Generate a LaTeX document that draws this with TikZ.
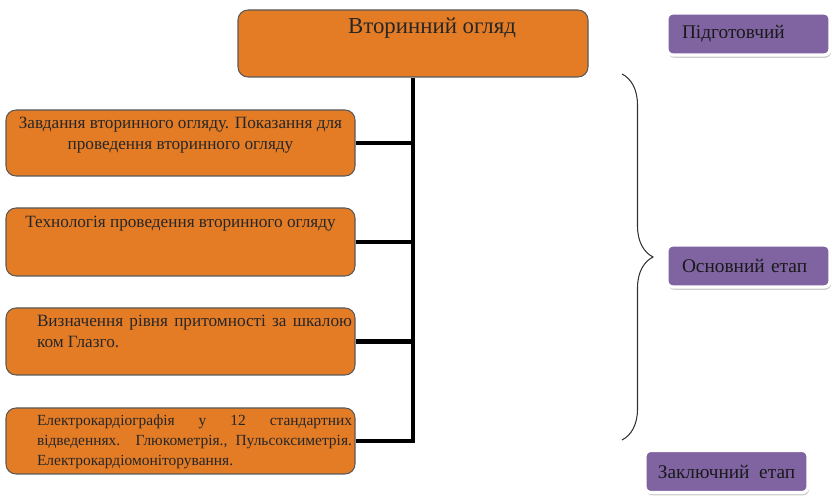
\documentclass[tikz,border=0pt]{standalone}
\usepackage{fontspec}
\setmainfont{Liberation Serif}
\usetikzlibrary{positioning,decorations.pathreplacing,shadows}
\definecolor{stageorange}{RGB}{228,124,38}
\definecolor{stagepurple}{RGB}{128,100,162}

\begin{document}
\begin{tikzpicture}[line width=0.6pt,
  topic/.style={draw=black!65,fill=stageorange,rounded corners=0.2cm,inner sep=0pt},
  boxtext/.style={inner sep=0pt,text=black!85,font=\fontsize{9.8}{12}\selectfont},
  phase/.style={draw=white,line width=1.8pt,fill=stagepurple,rounded corners=0.12cm,
    drop shadow={shadow xshift=0.6pt,shadow yshift=-1.6pt,fill=black!40},
    minimum width=3.26cm,minimum height=0.84cm,inner ysep=0pt,
    text=black!90,font=\fontsize{11}{13}\selectfont},
  trunk/.style={line width=2.3pt}]
\useasboundingbox (0,0) rectangle (16.68,9.96);
% ---------- main topic ----------
\node[topic,minimum width=7cm,minimum height=1.34cm] (tit) at (8.26,9.09) {};
\node[boxtext,font=\fontsize{13}{15}\selectfont,below=0.16cm of tit.north,xshift=0.38cm] (titt) {Вторинний огляд};
% ---------- sub topics ----------
\node[topic,minimum width=6.98cm,minimum height=1.32cm] (zav) at (3.61,7.10) {};
\node[boxtext,align=center,below=0.15cm of zav.north] (zavt)
  {Завдання вторинного огляду. Показання для\\проведення вторинного огляду};
\node[topic,minimum width=6.98cm,minimum height=1.36cm] (tech) at (3.61,5.12) {};
\node[boxtext,below=0.17cm of tech.north] (techt) {Технологія проведення вторинного огляду};
\node[topic,minimum width=6.98cm,minimum height=1.34cm] (vis) at (3.61,3.13) {};
\node[boxtext,text width=6.3cm,align=justify,below right=0.15cm and 0.62cm of vis.north west] (vist)
  {Визначення рівня притомності за шкалою\linebreak ком Глазго.};
\node[topic,minimum width=6.98cm,minimum height=1.32cm] (ekg) at (3.61,1.14) {};
\node[boxtext,font=\fontsize{8.8}{11.3}\selectfont,text width=6.3cm,align=justify,
  below right=0.14cm and 0.62cm of ekg.north west] (ekgt)
  {Електрокардіографія у 12 стандартних\linebreak відведеннях. Глюкометрія., Пульсоксиметрія.\linebreak Електрокардіомоніторування.};
% ---------- connectors ----------
\draw[trunk] (tit.south) |- (ekg.east);
\draw[trunk] (zav.east) -- (zav.east -| tit.south);
\draw[trunk] (tech.east) -- (tech.east -| tit.south);
\draw[trunk] (vis.east) -- (vis.east -| tit.south);
% ---------- stages ----------
\draw[black!80,decorate,decoration={brace,amplitude=0.62cm}] (12.44,8.48) -- (12.44,1.16);
\node[phase,text width=2.66cm,align=left,inner xsep=0.3cm] (prep) at (14.97,9.28) {Підготовчий};
\node[phase,text width=2.66cm,align=left,inner xsep=0.3cm] (main) at (14.97,4.64) {Основний етап};
\node[phase,align=center] (fin) at (14.53,0.53) {Заключний\ \ етап};
\end{tikzpicture}
\end{document}
